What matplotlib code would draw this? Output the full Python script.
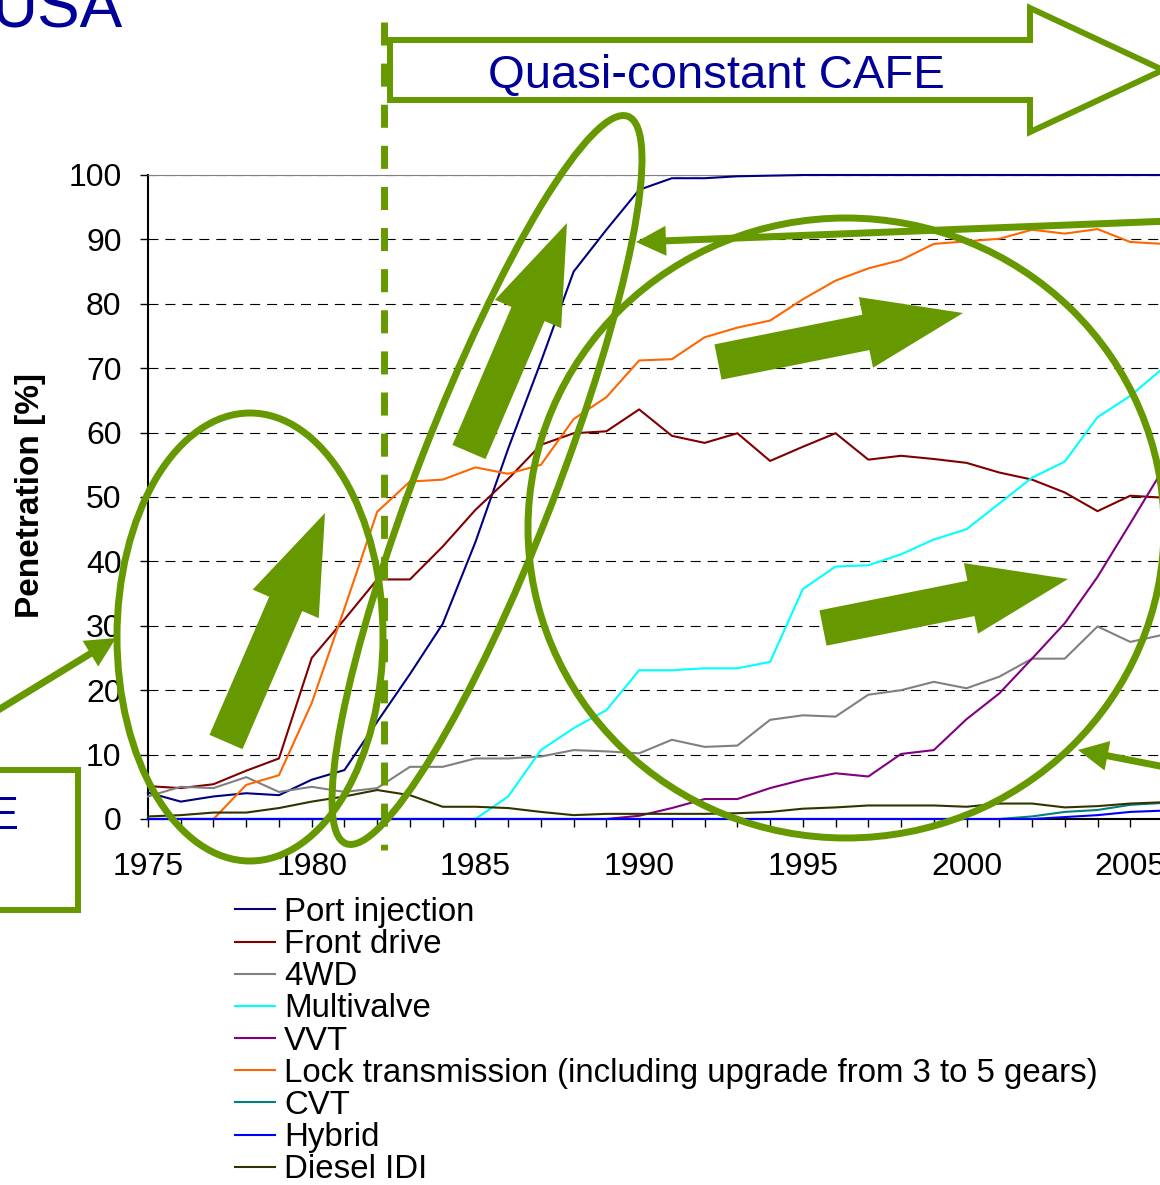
import matplotlib
matplotlib.use("Agg")
import matplotlib.pyplot as plt
from matplotlib.patches import Ellipse, FancyArrow, Polygon, Rectangle
from matplotlib.ticker import MultipleLocator


W, H = 1160, 1185
GREEN = "#669900"
TITLE_BLUE = "#000099"

plt.rcParams["font.family"] = ["Liberation Sans", "DejaVu Sans"]
plt.rcParams["lines.scale_dashes"] = False

YEARS = list(range(1975, 2007))

PORT_INJECTION = [4.1, 2.7, 3.5, 4.0, 3.7, 6.1, 7.6, 15.1, 22.5, 30.3,
                  43.0, 57.5, 71.0, 85.0, 91.5, 97.7, 99.5, 99.5, 99.8, 99.9,
                  100, 100, 100, 100, 100, 100, 100, 100, 100, 100, 100, 100]
FRONT_DRIVE = [5.1, 4.8, 5.4, 7.5, 9.4, 25.0, 31.0, 37.2, 37.2, 42.3,
               48.0, 52.8, 58.1, 59.9, 60.2, 63.6, 59.5, 58.4, 59.9, 55.6,
               57.8, 59.9, 55.8, 56.4, 55.9, 55.3, 53.8, 52.7, 50.7, 47.8, 50.2, 49.9]
FOUR_WD = [3.5, 5.0, 4.8, 6.5, 4.2, 5.0, 4.2, 4.8, 8.1, 8.1,
           9.4, 9.4, 9.7, 10.7, 10.5, 10.2, 12.3, 11.2, 11.4, 15.4,
           16.1, 15.9, 19.3, 20.0, 21.3, 20.3, 22.1, 24.9, 24.9, 29.9, 27.5, 28.6]
MULTIVALVE = [0, 0, 0, 0, 0, 0, 0, 0, 0, 0,
              0, 3.5, 10.7, 14.1, 16.9, 23.1, 23.1, 23.4, 23.4, 24.4,
              35.7, 39.2, 39.4, 41.1, 43.4, 45.0, 49.0, 53.0, 55.5, 62.4, 65.7, 70.0]
VVT = [0, 0, 0, 0, 0, 0, 0, 0, 0, 0,
       0, 0, 0, 0, 0, 0.5, 1.7, 3.1, 3.1, 4.8,
       6.1, 7.1, 6.6, 10.1, 10.7, 15.5, 19.5, 24.9, 30.4, 37.6, 45.9, 54.3]
LOCK_TRANSMISSION = [0, 0, 0, 5.3, 6.8, 18.0, 32.7, 47.7, 52.4, 52.7,
                     54.6, 53.6, 55.0, 62.1, 65.5, 71.2, 71.4, 74.8, 76.3, 77.4,
                     80.7, 83.6, 85.5, 86.8, 89.3, 89.7, 90.1, 91.5, 90.9, 91.6, 89.6, 89.3]
CVT = [0] * 27 + [0.4, 1.1, 1.4, 2.2, 2.5]
HYBRID = [0] * 28 + [0.3, 0.6, 1.1, 1.3]
DIESEL_IDI = [0.4, 0.6, 1.0, 1.0, 1.7, 2.7, 3.5, 4.5, 3.7, 1.9,
              1.9, 1.7, 1.1, 0.6, 0.8, 0.8, 0.8, 0.8, 0.9, 1.1,
              1.6, 1.8, 2.1, 2.1, 2.1, 1.9, 2.4, 2.4, 1.8, 2.0, 2.4, 2.6]

LABELS = ["Port injection", "Front drive", "4WD", "Multivalve", "VVT",
          "Lock transmission (including upgrade from 3 to 5 gears)",
          "CVT", "Hybrid", "Diesel IDI"]
COLORS = ["#000080", "#800000", "#808080", "#00FFFF", "#800080",
          "#FF6600", "#008080", "#0000FF", "#333300"]

Y_TICKS = list(range(0, 101, 10))
X_TICKS = [1975, 1980, 1985, 1990, 1995, 2000, 2005]


def draw_chart(fig):

    ax = fig.add_axes([148 / W, (H - 819) / H, 1015 / W, 644 / H])

    series = [PORT_INJECTION, FRONT_DRIVE, FOUR_WD, MULTIVALVE, VVT,
              LOCK_TRANSMISSION, CVT, HYBRID, DIESEL_IDI]
    for values, label, color in zip(series, LABELS, COLORS):
        ax.plot(YEARS, values, color=color, lw=1.5, label=label, clip_on=False, zorder=3)

    ax.set_xlim(1975, 2006)
    ax.set_ylim(0, 100)

    ax.set_yticks(Y_TICKS)
    ax.set_xticks(X_TICKS)
    ax.xaxis.set_minor_locator(MultipleLocator(1))
    ax.grid(axis="y", color="black", lw=0.8, linestyle=(0, (7.2, 5)))

    ax.tick_params(axis="y", direction="out", length=6, width=1, pad=13, labelsize=23)
    ax.tick_params(axis="x", which="both", direction="out", length=6, width=1, pad=18, labelsize=23)

    ax.spines["left"].set_linewidth(1.5)
    ax.spines["bottom"].set_linewidth(1.5)
    ax.spines["top"].set_color("#808080")
    ax.spines["right"].set_visible(False)

    ax.legend(loc="upper left", bbox_to_anchor=(235 / W, 1 - 897 / H),
              bbox_transform=fig.transFigure, frameon=False, fontsize=23.8,
              handlelength=1.2, handletextpad=0.28, labelspacing=0.035,
              borderpad=0, borderaxespad=0)

    return ax


def draw_annotations(fig):

    ov = fig.add_axes([0, 0, 1, 1], zorder=5)
    ov.set_xlim(0, W)
    ov.set_ylim(H, 0)
    ov.axis("off")
    ov.patch.set_alpha(0)

    # titles
    ov.text(122, 27, "USA", ha="right", va="baseline", fontsize=46, color=TITLE_BLUE)
    ov.text(31, 496, "Penetration [%]", rotation=90, ha="center", va="center",
            fontsize=24, fontweight="bold")

    # CAFE arrow banner
    ov.add_patch(Polygon([(390, 40), (1030, 40), (1030, 8), (1163, 70),
                          (1030, 132), (1030, 100), (390, 100)],
                         closed=True, facecolor="white", edgecolor=GREEN,
                         lw=4.3, joinstyle="miter"))
    ov.text(716, 88, "Quasi-constant CAFE", ha="center", va="baseline",
            fontsize=34, color=TITLE_BLUE)

    ov.add_patch(Rectangle((-20, 770), 98, 140, facecolor="white",
                           edgecolor=GREEN, lw=4.3))
    ov.text(20, 829, "CAFE", ha="right", va="baseline", fontsize=34, color=TITLE_BLUE)

    ov.plot([384, 384], [22, 850], color=GREEN, lw=5, linestyle=(0, (16.6, 13)))

    # circles
    ov.add_patch(Ellipse((250, 637), 266, 448, fill=False, ec=GREEN, lw=5))
    ov.add_patch(Ellipse((487, 480), 780, 138, angle=-68.8, fill=False, ec=GREEN, lw=5))
    ov.add_patch(Ellipse((846, 528), 636, 620, fill=False, ec=GREEN, lw=5))

    # block arrows
    for (x0, y0), (x1, y1) in [((226, 742), (325, 513)),
                               ((469, 452), (567, 223)),
                               ((718, 362), (963, 313)),
                               ((823, 628), (1068, 579))]:
        ov.add_patch(FancyArrow(x0, y0, x1 - x0, y1 - y0, width=36,
                                head_width=72, head_length=99,
                                length_includes_head=True, color=GREEN, lw=0))

    # thin arrows
    for (x0, y0), (x1, y1) in [((1170, 221), (636, 242)),
                               ((1170, 768), (1078, 750)),
                               ((-10, 715), (116, 638))]:
        ov.add_patch(FancyArrow(x0, y0, x1 - x0, y1 - y0, width=7,
                                head_width=30, head_length=30,
                                length_includes_head=True, color=GREEN, lw=0))


def main():

    fig = plt.figure(figsize=(W / 100, H / 100), dpi=100)
    draw_chart(fig)
    draw_annotations(fig)
    fig.savefig("out.png", dpi=100)
    plt.close(fig)


if __name__ == "__main__":
    main()
